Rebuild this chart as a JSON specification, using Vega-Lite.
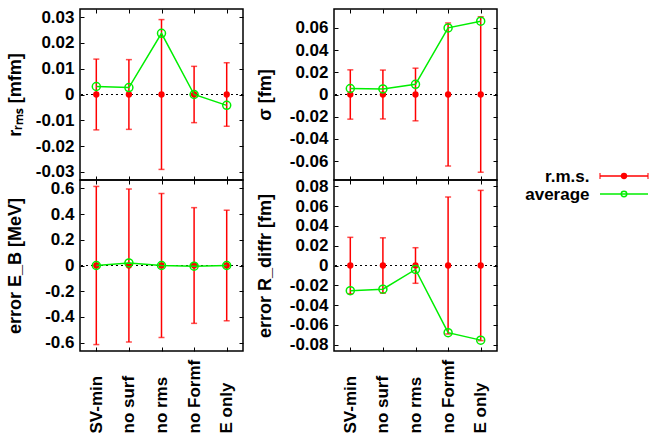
{
  "$schema": "https://vega.github.io/schema/vega-lite/v6.json",
  "padding": {"left": 5, "top": 7, "right": 2, "bottom": 0},
  "background": "white",
  "datasets": {
    "d": [
      {"panel": "rms", "cat": "SV-min", "mean": 0, "rms": 0.0137, "avg": 0.0031},
      {"panel": "rms", "cat": "no surf", "mean": 0, "rms": 0.0135, "avg": 0.0027},
      {"panel": "rms", "cat": "no rms", "mean": 0, "rms": 0.029, "avg": 0.0237},
      {"panel": "rms", "cat": "no Formf", "mean": 0, "rms": 0.0109, "avg": 0.0},
      {"panel": "rms", "cat": "E only", "mean": 0, "rms": 0.0123, "avg": -0.0042},
      {"panel": "sigma", "cat": "SV-min", "mean": 0, "rms": 0.0222, "avg": 0.0054},
      {"panel": "sigma", "cat": "no surf", "mean": 0, "rms": 0.022, "avg": 0.005},
      {"panel": "sigma", "cat": "no rms", "mean": 0, "rms": 0.0237, "avg": 0.0092},
      {"panel": "sigma", "cat": "no Formf", "mean": 0, "rms": 0.0644, "avg": 0.06},
      {"panel": "sigma", "cat": "E only", "mean": 0, "rms": 0.07, "avg": 0.066},
      {"panel": "EB", "cat": "SV-min", "mean": 0, "rms": 0.615, "avg": 0.0},
      {"panel": "EB", "cat": "no surf", "mean": 0, "rms": 0.595, "avg": 0.02},
      {"panel": "EB", "cat": "no rms", "mean": 0, "rms": 0.56, "avg": 0.0},
      {"panel": "EB", "cat": "no Formf", "mean": 0, "rms": 0.45, "avg": -0.005},
      {"panel": "EB", "cat": "E only", "mean": 0, "rms": 0.43, "avg": 0.0},
      {"panel": "Rd", "cat": "SV-min", "mean": 0, "rms": 0.0285, "avg": -0.0255},
      {"panel": "Rd", "cat": "no surf", "mean": 0, "rms": 0.028, "avg": -0.024},
      {"panel": "Rd", "cat": "no rms", "mean": 0, "rms": 0.018, "avg": -0.004},
      {"panel": "Rd", "cat": "no Formf", "mean": 0, "rms": 0.0693, "avg": -0.068},
      {"panel": "Rd", "cat": "E only", "mean": 0, "rms": 0.076, "avg": -0.0755}
    ],
    "leg": [{"series": "r.m.s."}, {"series": "average"}],
    "none": []
  },
  "hconcat": [
    {
      "spacing": 10,
      "hconcat": [
        {
          "spacing": 0,
          "bounds": "flush",
          "vconcat": [
            {
              "width": 163, "height": 171,
              "data": {"name": "d"},
              "transform": [{"filter": "datum.panel === 'rms'"}],
              "layer": [
                {"mark": {"type": "rule", "color": "black", "strokeDash": [2, 3], "strokeWidth": 0.8},
                 "encoding": {"y": {"field": "mean", "type": "quantitative", "scale": {"domain": [-0.0331, 0.0331], "nice": false, "zero": false}, "axis": null}}},
                {"mark": {"type": "errorbar", "color": "#ff0000", "thickness": 1.5, "ticks": {"size": 6}},
                 "encoding": {
                   "x": {"field": "cat", "type": "nominal", "sort": ["SV-min", "no surf", "no rms", "no Formf", "E only"], "scale": {"type": "point", "padding": 0.5}, "axis": null},
                   "y": {"field": "mean", "type": "quantitative", "scale": {"domain": [-0.0331, 0.0331], "nice": false, "zero": false}, "axis": null},
                   "yError": {"field": "rms"}}},
                {"mark": {"type": "point", "filled": true, "color": "#ff0000", "size": 40, "opacity": 1},
                 "encoding": {
                   "x": {"field": "cat", "type": "nominal", "sort": ["SV-min", "no surf", "no rms", "no Formf", "E only"], "scale": {"type": "point", "padding": 0.5}, "axis": {"orient": "bottom", "labels": false, "title": null}},
                   "y": {"field": "mean", "type": "quantitative", "scale": {"domain": [-0.0331, 0.0331], "nice": false, "zero": false}, "axis": {"orient": "left", "values": [-0.03, -0.02, -0.01, 0, 0.01, 0.02, 0.03], "format": ".2~f", "title": "rᵣₘₛ [mfm]", "titlePadding": 11}}}},
                {"mark": {"type": "line", "color": "#00ee00", "strokeWidth": 1.5},
                 "encoding": {
                   "x": {"field": "cat", "type": "nominal", "sort": ["SV-min", "no surf", "no rms", "no Formf", "E only"], "scale": {"type": "point", "padding": 0.5}, "axis": null},
                   "y": {"field": "avg", "type": "quantitative", "scale": {"domain": [-0.0331, 0.0331], "nice": false, "zero": false}, "axis": null}}},
                {"mark": {"type": "point", "filled": false, "color": "#00ee00", "size": 64, "strokeWidth": 1.5, "opacity": 1},
                 "encoding": {
                   "x": {"field": "cat", "type": "nominal", "sort": ["SV-min", "no surf", "no rms", "no Formf", "E only"], "scale": {"type": "point", "padding": 0.5}, "axis": {"orient": "top", "labels": false, "title": null}},
                   "y": {"field": "avg", "type": "quantitative", "scale": {"domain": [-0.0331, 0.0331], "nice": false, "zero": false}, "axis": {"orient": "right", "labels": false, "title": null, "values": [-0.03, -0.02, -0.01, 0, 0.01, 0.02, 0.03]}}}}
              ],
              "resolve": {"axis": {"x": "independent", "y": "independent"}}
            },
            {
              "width": 163, "height": 171,
              "data": {"name": "d"},
              "transform": [{"filter": "datum.panel === 'EB'"}],
              "layer": [
                {"mark": {"type": "rule", "color": "black", "strokeDash": [2, 3], "strokeWidth": 0.8},
                 "encoding": {"y": {"field": "mean", "type": "quantitative", "scale": {"domain": [-0.665, 0.665], "nice": false, "zero": false}, "axis": null}}},
                {"mark": {"type": "errorbar", "color": "#ff0000", "thickness": 1.5, "ticks": {"size": 6}},
                 "encoding": {
                   "x": {"field": "cat", "type": "nominal", "sort": ["SV-min", "no surf", "no rms", "no Formf", "E only"], "scale": {"type": "point", "padding": 0.5}, "axis": null},
                   "y": {"field": "mean", "type": "quantitative", "scale": {"domain": [-0.665, 0.665], "nice": false, "zero": false}, "axis": null},
                   "yError": {"field": "rms"}}},
                {"mark": {"type": "point", "filled": true, "color": "#ff0000", "size": 40, "opacity": 1},
                 "encoding": {
                   "x": {"field": "cat", "type": "nominal", "sort": ["SV-min", "no surf", "no rms", "no Formf", "E only"], "scale": {"type": "point", "padding": 0.5}, "axis": {"orient": "bottom", "title": null, "labelAngle": -90, "labelAlign": "left", "labelBaseline": "middle", "labelPadding": 86}},
                   "y": {"field": "mean", "type": "quantitative", "scale": {"domain": [-0.665, 0.665], "nice": false, "zero": false}, "axis": {"orient": "left", "values": [-0.6, -0.4, -0.2, 0, 0.2, 0.4, 0.6], "format": ".1~f", "title": "error E_B [MeV]", "titlePadding": 20}}}},
                {"mark": {"type": "line", "color": "#00ee00", "strokeWidth": 1.5},
                 "encoding": {
                   "x": {"field": "cat", "type": "nominal", "sort": ["SV-min", "no surf", "no rms", "no Formf", "E only"], "scale": {"type": "point", "padding": 0.5}, "axis": null},
                   "y": {"field": "avg", "type": "quantitative", "scale": {"domain": [-0.665, 0.665], "nice": false, "zero": false}, "axis": null}}},
                {"mark": {"type": "point", "filled": false, "color": "#00ee00", "size": 64, "strokeWidth": 1.5, "opacity": 1},
                 "encoding": {
                   "x": {"field": "cat", "type": "nominal", "sort": ["SV-min", "no surf", "no rms", "no Formf", "E only"], "scale": {"type": "point", "padding": 0.5}, "axis": {"orient": "top", "labels": false, "title": null}},
                   "y": {"field": "avg", "type": "quantitative", "scale": {"domain": [-0.665, 0.665], "nice": false, "zero": false}, "axis": {"orient": "right", "labels": false, "title": null, "values": [-0.6, -0.4, -0.2, 0, 0.2, 0.4, 0.6]}}}}
              ],
              "resolve": {"axis": {"x": "independent", "y": "independent"}}
            }
          ]
        },
        {
          "spacing": 0,
          "bounds": "flush",
          "vconcat": [
            {
              "width": 163, "height": 171,
              "data": {"name": "d"},
              "transform": [{"filter": "datum.panel === 'sigma'"}],
              "layer": [
                {"mark": {"type": "rule", "color": "black", "strokeDash": [2, 3], "strokeWidth": 0.8},
                 "encoding": {"y": {"field": "mean", "type": "quantitative", "scale": {"domain": [-0.077, 0.077], "nice": false, "zero": false}, "axis": null}}},
                {"mark": {"type": "errorbar", "color": "#ff0000", "thickness": 1.5, "ticks": {"size": 6}},
                 "encoding": {
                   "x": {"field": "cat", "type": "nominal", "sort": ["SV-min", "no surf", "no rms", "no Formf", "E only"], "scale": {"type": "point", "padding": 0.5}, "axis": null},
                   "y": {"field": "mean", "type": "quantitative", "scale": {"domain": [-0.077, 0.077], "nice": false, "zero": false}, "axis": null},
                   "yError": {"field": "rms"}}},
                {"mark": {"type": "point", "filled": true, "color": "#ff0000", "size": 40, "opacity": 1},
                 "encoding": {
                   "x": {"field": "cat", "type": "nominal", "sort": ["SV-min", "no surf", "no rms", "no Formf", "E only"], "scale": {"type": "point", "padding": 0.5}, "axis": {"orient": "bottom", "labels": false, "title": null}},
                   "y": {"field": "mean", "type": "quantitative", "scale": {"domain": [-0.077, 0.077], "nice": false, "zero": false}, "axis": {"orient": "left", "values": [-0.06, -0.04, -0.02, 0, 0.02, 0.04, 0.06], "format": ".2~f", "title": "σ [fm]", "titlePadding": 15}}}},
                {"mark": {"type": "line", "color": "#00ee00", "strokeWidth": 1.5},
                 "encoding": {
                   "x": {"field": "cat", "type": "nominal", "sort": ["SV-min", "no surf", "no rms", "no Formf", "E only"], "scale": {"type": "point", "padding": 0.5}, "axis": null},
                   "y": {"field": "avg", "type": "quantitative", "scale": {"domain": [-0.077, 0.077], "nice": false, "zero": false}, "axis": null}}},
                {"mark": {"type": "point", "filled": false, "color": "#00ee00", "size": 64, "strokeWidth": 1.5, "opacity": 1},
                 "encoding": {
                   "x": {"field": "cat", "type": "nominal", "sort": ["SV-min", "no surf", "no rms", "no Formf", "E only"], "scale": {"type": "point", "padding": 0.5}, "axis": {"orient": "top", "labels": false, "title": null}},
                   "y": {"field": "avg", "type": "quantitative", "scale": {"domain": [-0.077, 0.077], "nice": false, "zero": false}, "axis": {"orient": "right", "labels": false, "title": null, "values": [-0.06, -0.04, -0.02, 0, 0.02, 0.04, 0.06]}}}}
              ],
              "resolve": {"axis": {"x": "independent", "y": "independent"}}
            },
            {
              "width": 163, "height": 171,
              "data": {"name": "d"},
              "transform": [{"filter": "datum.panel === 'Rd'"}],
              "layer": [
                {"mark": {"type": "rule", "color": "black", "strokeDash": [2, 3], "strokeWidth": 0.8},
                 "encoding": {"y": {"field": "mean", "type": "quantitative", "scale": {"domain": [-0.0865, 0.0865], "nice": false, "zero": false}, "axis": null}}},
                {"mark": {"type": "errorbar", "color": "#ff0000", "thickness": 1.5, "ticks": {"size": 6}},
                 "encoding": {
                   "x": {"field": "cat", "type": "nominal", "sort": ["SV-min", "no surf", "no rms", "no Formf", "E only"], "scale": {"type": "point", "padding": 0.5}, "axis": null},
                   "y": {"field": "mean", "type": "quantitative", "scale": {"domain": [-0.0865, 0.0865], "nice": false, "zero": false}, "axis": null},
                   "yError": {"field": "rms"}}},
                {"mark": {"type": "point", "filled": true, "color": "#ff0000", "size": 40, "opacity": 1},
                 "encoding": {
                   "x": {"field": "cat", "type": "nominal", "sort": ["SV-min", "no surf", "no rms", "no Formf", "E only"], "scale": {"type": "point", "padding": 0.5}, "axis": {"orient": "bottom", "title": null, "labelAngle": -90, "labelAlign": "left", "labelBaseline": "middle", "labelPadding": 86}},
                   "y": {"field": "mean", "type": "quantitative", "scale": {"domain": [-0.0865, 0.0865], "nice": false, "zero": false}, "axis": {"orient": "left", "values": [-0.08, -0.06, -0.04, -0.02, 0, 0.02, 0.04, 0.06, 0.08], "format": ".2~f", "title": "error R_diffr [fm]", "titlePadding": 15}}}},
                {"mark": {"type": "line", "color": "#00ee00", "strokeWidth": 1.5},
                 "encoding": {
                   "x": {"field": "cat", "type": "nominal", "sort": ["SV-min", "no surf", "no rms", "no Formf", "E only"], "scale": {"type": "point", "padding": 0.5}, "axis": null},
                   "y": {"field": "avg", "type": "quantitative", "scale": {"domain": [-0.0865, 0.0865], "nice": false, "zero": false}, "axis": null}}},
                {"mark": {"type": "point", "filled": false, "color": "#00ee00", "size": 64, "strokeWidth": 1.5, "opacity": 1},
                 "encoding": {
                   "x": {"field": "cat", "type": "nominal", "sort": ["SV-min", "no surf", "no rms", "no Formf", "E only"], "scale": {"type": "point", "padding": 0.5}, "axis": {"orient": "top", "labels": false, "title": null}},
                   "y": {"field": "avg", "type": "quantitative", "scale": {"domain": [-0.0865, 0.0865], "nice": false, "zero": false}, "axis": {"orient": "right", "labels": false, "title": null, "values": [-0.08, -0.06, -0.04, -0.02, 0, 0.02, 0.04, 0.06, 0.08]}}}}
              ],
              "resolve": {"axis": {"x": "independent", "y": "independent"}}
            }
          ]
        }
      ]
    },
    {
      "spacing": 0,
      "vconcat": [
        {
          "width": 48, "height": 158,
          "view": {"stroke": null},
          "data": {"name": "none"},
          "mark": {"type": "point", "opacity": 0}
        },
        {
          "width": 48, "height": 36,
          "view": {"stroke": null},
          "data": {"name": "leg"},
          "encoding": {
            "y": {"field": "series", "type": "nominal", "sort": ["r.m.s.", "average"], "scale": {"type": "point", "padding": 0.5},
                  "axis": {"title": null, "ticks": false, "domain": false, "labelPadding": 11}}
          },
          "layer": [
            {"mark": {"type": "rule", "strokeWidth": 1.5},
             "encoding": {"color": {"field": "series", "type": "nominal", "scale": {"domain": ["r.m.s.", "average"], "range": ["#ff0000", "#00ee00"]}, "legend": null}}},
            {"transform": [{"filter": "datum.series === 'r.m.s.'"}],
             "mark": {"type": "tick", "orient": "vertical", "size": 6, "thickness": 1.5, "color": "#ff0000"},
             "encoding": {"x": {"datum": 0, "type": "quantitative", "scale": {"domain": [0, 1]}, "axis": null}}},
            {"transform": [{"filter": "datum.series === 'r.m.s.'"}],
             "mark": {"type": "tick", "orient": "vertical", "size": 6, "thickness": 1.5, "color": "#ff0000"},
             "encoding": {"x": {"datum": 1, "type": "quantitative", "scale": {"domain": [0, 1]}, "axis": null}}},
            {"transform": [{"filter": "datum.series === 'r.m.s.'"}],
             "mark": {"type": "point", "filled": true, "color": "#ff0000", "size": 40, "opacity": 1}},
            {"transform": [{"filter": "datum.series === 'average'"}],
             "mark": {"type": "point", "filled": false, "color": "#00ee00", "size": 30, "strokeWidth": 1.5, "opacity": 1}}
          ]
        }
      ]
    }
  ],
  "spacing": 25,
  "config": {
    "font": "Liberation Sans",
    "view": {"stroke": "black", "strokeWidth": 1.5},
    "axis": {"domain": false, "grid": false, "tickColor": "black", "tickSize": -4, "tickWidth": 1, "minExtent": 0,
             "labelPadding": 10,
             "labelFont": "Liberation Sans", "labelFontWeight": "bold", "labelFontSize": 17, "labelColor": "black",
             "titleFont": "Liberation Sans", "titleFontWeight": "bold", "titleFontSize": 18, "titleColor": "black"},
    "locale": {"number": {"decimal": ".", "thousands": ",", "grouping": [3], "currency": ["$", ""], "minus": "-"}}
  }
}
